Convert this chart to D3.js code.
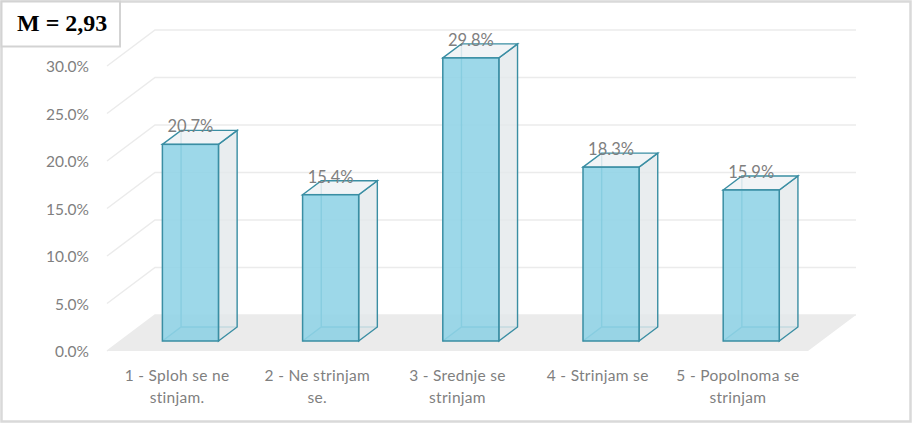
<!DOCTYPE html>
<html>
<head>
<meta charset="utf-8">
<script src="https://cdn.jsdelivr.net/npm/d3@7"></script>
<style>
  body { margin: 0; background: #fff; }
  svg { display: block; }
</style>
</head>
<body>
<svg width="912" height="424"></svg>
<script>
// chart data
var categories = ["1 - Sploh se ne\nstinjam.", "2 - Ne strinjam\nse.", "3 - Srednje se\nstrinjam", "4 - Strinjam se", "5 - Popolnoma se\nstrinjam"];
var values = [20.7, 15.4, 29.8, 18.3, 15.9];
var yTicks = [0, 5, 10, 15, 20, 25, 30];
var meanLabel = "M = 2,93";

var svg = d3.select("svg");

// 3d look: floor depth and where the bars sit inside it
var depthX = 48, depthY = 36;
var barFront = 10 / 36, barBack = 24 / 36;
var floorLeft = 107, floorRight = 808;

var x = d3.scaleBand().domain(categories).range([floorLeft, floorRight]).padding(0);
var y = d3.scaleLinear().domain([0, 30]).range([351, 66]);
var barW = x.bandwidth() * 0.4;

// outer frame
svg.append("rect")
    .attr("x", 1.5).attr("y", 1.5).attr("width", 909).attr("height", 420)
    .style("fill", "#fff").style("stroke", "#d9d9d9").style("stroke-width", 2.5);

// gridlines on the side and back walls
var grid = svg.append("g");
yTicks.forEach(function(t) {
  var yf = y(t);
  grid.append("path")
      .attr("d", "M" + floorLeft + "," + yf + "L" + (floorLeft + depthX) + "," + (yf - depthY)
          + "L" + (floorRight + depthX) + "," + (yf - depthY))
      .style("fill", "none").style("stroke", "#ebebeb").style("stroke-width", 1.5);
});

// floor
svg.append("path")
    .attr("d", "M" + floorLeft + "," + y(0) + "L" + (floorLeft + depthX) + "," + (y(0) - depthY)
        + "L" + (floorRight + depthX) + "," + (y(0) - depthY) + "L" + floorRight + "," + y(0) + "Z")
    .style("fill", "#ebebeb");

// y axis labels
var yAxis = d3.axisLeft(y).tickValues(yTicks).tickSize(0).tickPadding(0)
    .tickFormat(function(d) { return d.toFixed(1) + "%"; });
var ag = svg.append("g").attr("transform", "translate(89,1)").call(yAxis);
ag.select(".domain").remove();
ag.selectAll("text")
    .style("font-family", "Lato, 'Open Sans', sans-serif")
    .style("font-size", "15.5px")
    .style("fill", "#7f7f7f");

// bars
var fx = depthX * barFront, fy = depthY * barFront;
var bx = depthX * (barBack - barFront), by = depthY * (barBack - barFront);
var edge = "#3a8ea3";

var bars = svg.selectAll("g.bar")
    .data(values)
  .enter().append("g")
    .attr("class", "bar");

bars.each(function(v, i) {
  var g = d3.select(this);
  var x0 = x(categories[i]) + (x.bandwidth() - barW) / 2 + fx;
  var x1 = x0 + barW;
  var yb = y(0) - fy;
  var yt = y(v) - fy;

  // bottom face (seen through)
  g.append("path")
      .attr("d", "M" + x0 + "," + yb + "L" + (x0 + bx) + "," + (yb - by) + "L" + (x1 + bx) + "," + (yb - by) + "L" + x1 + "," + yb + "Z")
      .style("fill", "#d6dadc").style("stroke", "none");
  // hidden edges
  g.append("path")
      .attr("d", "M" + x0 + "," + yb + "L" + (x0 + bx) + "," + (yb - by)
          + "L" + (x1 + bx) + "," + (yb - by)
          + "M" + (x0 + bx) + "," + (yb - by) + "L" + (x0 + bx) + "," + (yt - by))
      .style("fill", "none").style("stroke", "#4aa0b4").style("stroke-width", 1.4);
  // right side face
  g.append("path")
      .attr("d", "M" + x1 + "," + yb + "L" + (x1 + bx) + "," + (yb - by) + "L" + (x1 + bx) + "," + (yt - by) + "L" + x1 + "," + yt + "Z")
      .style("fill", "#e3e8eb").style("fill-opacity", 0.8)
      .style("stroke", edge).style("stroke-width", 1.4);
  // top face
  g.append("path")
      .attr("d", "M" + x0 + "," + yt + "L" + (x0 + bx) + "," + (yt - by) + "L" + (x1 + bx) + "," + (yt - by) + "L" + x1 + "," + yt + "Z")
      .style("fill", "#eef2f5").style("fill-opacity", 0.85)
      .style("stroke", edge).style("stroke-width", 1.4);
  // front face
  g.append("rect")
      .attr("x", x0).attr("y", yt).attr("width", barW).attr("height", yb - yt)
      .style("fill", "#8fd3e6").style("fill-opacity", 0.88)
      .style("stroke", edge).style("stroke-width", 1.5);
  // value label
  g.append("text")
      .attr("x", x0 + barW / 2).attr("y", yt - 12)
      .attr("text-anchor", "middle")
      .style("font-family", "Lato, 'Open Sans', sans-serif")
      .style("font-size", "16.5px")
      .style("fill", "#7f7f7f")
      .text(v.toFixed(1) + "%");
});

// category labels
var cl = svg.selectAll("text.cat")
    .data(categories)
  .enter().append("text")
    .attr("class", "cat")
    .attr("text-anchor", "middle")
    .attr("x", function(d) { return x(d) + x.bandwidth() / 2; })
    .attr("y", 381)
    .style("font-family", "Lato, 'Open Sans', sans-serif")
    .style("font-size", "15.5px")
    .style("letter-spacing", "0.3px")
    .style("fill", "#7f7f7f");
cl.each(function(d) {
  var t = d3.select(this);
  var cx = t.attr("x");
  d.split("\n").forEach(function(line, k) {
    t.append("tspan").attr("x", cx).attr("dy", k ? 22 : 0).text(line);
  });
});

// mean box
svg.append("rect")
    .attr("x", 1.5).attr("y", 1.5).attr("width", 118.5).attr("height", 45)
    .style("fill", "#fff").style("stroke", "#d3d3d3").style("stroke-width", 2);
svg.append("text")
    .attr("x", 17).attr("y", 31)
    .style("font-family", "'Liberation Serif', 'DejaVu Serif', serif")
    .style("font-weight", "bold")
    .style("font-size", "24px")
    .style("fill", "#000")
    .text(meanLabel);
</script>
</body>
</html>
